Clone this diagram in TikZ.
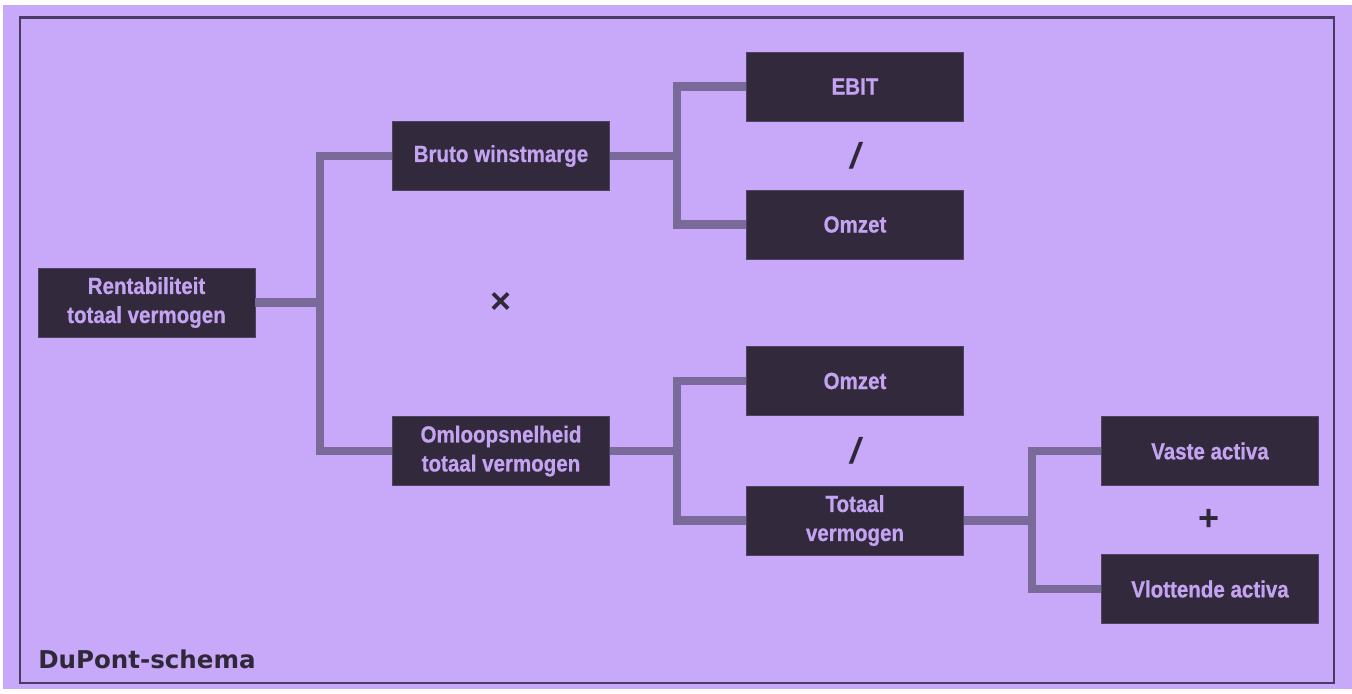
\documentclass[tikz,border=0pt]{standalone}
\usepackage{fontspec}
\newfontfamily\boxfont[FakeStretch=0.88, BoldFeatures={FakeBold=0.6}]{Liberation Sans}
\newfontfamily\symfont{Liberation Sans}
\newfontfamily\labfont{DejaVu Sans}
\definecolor{bgpurple}{HTML}{C8A8F8}
\definecolor{boxfill}{HTML}{322A3C}
\definecolor{boxtext}{HTML}{C4A4F2}
\definecolor{connc}{HTML}{7A6A9A}
\definecolor{framec}{HTML}{4A3A66}
\definecolor{darktext}{HTML}{2F2838}
\tikzset{
  dbox/.style={rectangle, fill=boxfill, draw=boxfill!80!bgpurple, line width=0.6pt,
    minimum width=162.75pt, minimum height=51.75pt, inner sep=0pt, align=center,
    text=boxtext, font=\boxfont\bfseries\fontsize{17.5}{21.75}\selectfont},
  conn/.style={draw=connc, line width=6.6pt, line join=miter},
  opsym/.style={text=darktext, font=\symfont\bfseries\fontsize{27}{28}\selectfont, inner sep=0pt}
}
\begin{document}
\begin{tikzpicture}[x=0.75pt,y=-0.75pt]
\useasboundingbox (0,0) rectangle (1352,693);
\fill[white] (0,0) rectangle (1352,693);
\fill[bgpurple] (3,5) rectangle (1352,689);
\draw[framec, line width=1.6pt] (20,17.5) rectangle (1334,683);

\node[dbox] (rent) at (146.5,302.5) {Rentabiliteit\\totaal vermogen};
\node[dbox] (bruto) at (501,156) {Bruto winstmarge};
\node[dbox] (omloop) at (501,451) {Omloopsnelheid\\totaal vermogen};
\node[dbox] (ebit) at (855,86.5) {EBIT};
\node[dbox] (omzeta) at (855,224.5) {Omzet};
\node[dbox] (omzetb) at (855,381) {Omzet};
\node[dbox] (totaal) at (855,520.5) {Totaal\\vermogen};
\node[dbox] (vaste) at (1210,451) {Vaste activa};
\node[dbox] (vlot) at (1210,589) {Vlottende activa};

\coordinate (j1) at (320,302.5);
\coordinate (j2) at (677,156);
\coordinate (j3) at (677,451);
\coordinate (j4) at (1032,520.5);

\draw[conn] (rent.east) -- (j1);
\draw[conn] (bruto.west) -- (bruto.west -| j1) -- (omloop.west -| j1) -- (omloop.west);
\draw[conn] (bruto.east) -- (j2);
\draw[conn] (ebit.west) -- (ebit.west -| j2) -- (omzeta.west -| j2) -- (omzeta.west);
\draw[conn] (omloop.east) -- (j3);
\draw[conn] (omzetb.west) -- (omzetb.west -| j3) -- (totaal.west -| j3) -- (totaal.west);
\draw[conn] (totaal.east) -- (j4);
\draw[conn] (vaste.west) -- (vaste.west -| j4) -- (vlot.west -| j4) -- (vlot.west);

\node[opsym, font=\symfont\bfseries\itshape\fontsize{27}{28}\selectfont] (div1) at (855,156) {/};
\node[opsym, font=\symfont\bfseries\itshape\fontsize{27}{28}\selectfont] (div2) at (855,451) {/};
\node[opsym] (times) at (501,303) {×};
\node[opsym] (plus) at (1209,520) {+};

\node[anchor=base west, inner sep=0pt, text=darktext, font=\labfont\bfseries\fontsize{18.4}{20}\selectfont] (title) at (38,668) {DuPont-schema};
\end{tikzpicture}
\end{document}
